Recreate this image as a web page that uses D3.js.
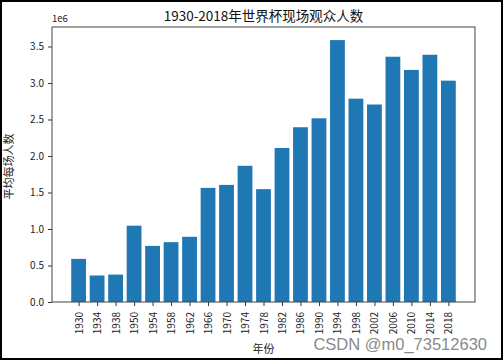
<!DOCTYPE html>
<html><head><meta charset="utf-8">
<script src="https://cdn.jsdelivr.net/npm/d3@7"></script>
<style>
html,body{margin:0;padding:0;background:#fff;}
svg{display:block;}
</style>
</head><body>
<script>
const years = ["1930","1934","1938","1950","1954","1958","1962","1966","1970","1974","1978","1982","1986","1990","1994","1998","2002","2006","2010","2014","2018"];
const attendance = [590549,363000,375700,1045246,768607,819810,893172,1563135,1603975,1865753,1545791,2109723,2394031,2516215,3587538,2785100,2705197,3359439,3178856,3386810,3031768];
const yTicks = [0,500000,1000000,1500000,2000000,2500000,3000000,3500000];
const yTickLabels = ["0.0","0.5","1.0","1.5","2.0","2.5","3.0","3.5"];
const title = "1930-2018年世界杯现场观众人数";
const xLabel = "年份";
const yLabel = "平均每场人数";
const watermark = "CSDN @m0_73512630";

const W = 503, H = 360;
const L = 52, R = 475, T = 27, B = 302;
const font = "'Noto Sans CJK SC', 'DejaVu Sans', sans-serif";

const svg = d3.select("body").append("svg").attr("width", W).attr("height", H);
svg.append("rect").attr("x",1).attr("y",1).attr("width",W-2).attr("height",H-2)
  .attr("fill","#fff").attr("stroke","#000").attr("stroke-width",2);

const n = years.length;
const x = d3.scaleLinear().domain([-1.44, n - 1 + 1.44]).range([L, R]);
const bw = 0.8;
const ymax = d3.max(attendance) * 1.05;
const y = d3.scaleLinear().domain([0, ymax]).range([B, T]);

svg.append("g").selectAll("rect").data(attendance).join("rect")
  .attr("x", (d,i) => x(i - bw/2))
  .attr("width", x(bw) - x(0))
  .attr("y", d => y(d))
  .attr("height", d => y(0) - y(d))
  .attr("fill", "#1f77b4");

// axes
const yAxis = d3.axisLeft(y).tickValues(yTicks).tickFormat((d,i) => yTickLabels[i]).tickSize(4).tickPadding(4);
const gy = svg.append("g").attr("transform", `translate(${L},0)`).call(yAxis);
const xAxis = d3.axisBottom(x).tickValues(d3.range(n)).tickFormat(i => years[i]).tickSize(4).tickPadding(3);
const gx = svg.append("g").attr("transform", `translate(0,${B})`).call(xAxis);
[gx, gy].forEach(g => {
  g.select(".domain").remove();
  g.selectAll("line").attr("stroke", "#333");
  g.selectAll("text").attr("fill", "#222").style("font-family", font).style("font-size", "10px");
});
gx.selectAll("text")
  .attr("transform", "rotate(-90)")
  .attr("text-anchor", "end")
  .attr("dy", "0.35em")
  .attr("x", -10)
  .attr("y", 0);

// frame
svg.append("rect").attr("x", L).attr("y", T).attr("width", R - L).attr("height", B - T)
  .attr("fill", "none").attr("stroke", "#444").attr("stroke-width", 1);

// texts
svg.append("text").attr("x", (L + R) / 2).attr("y", 21).attr("text-anchor", "middle")
  .style("font-family", font).style("font-size", "13.5px").attr("fill", "#111").text(title);
svg.append("text").attr("x", L).attr("y", 22)
  .style("font-family", font).style("font-size", "9.5px").attr("fill", "#222").text("1e6");
svg.append("text").attr("transform", `translate(13,${(T + B) / 2 + 2}) rotate(-90)`).attr("text-anchor", "middle")
  .style("font-family", font).style("font-size", "11px").attr("fill", "#222").text(yLabel);
svg.append("text").attr("x", (L + R) / 2).attr("y", 353).attr("text-anchor", "middle")
  .style("font-family", font).style("font-size", "11px").attr("fill", "#222").text(xLabel);
svg.append("text").attr("x", 487).attr("y", 350).attr("text-anchor", "end")
  .style("font-family", "'Liberation Sans', Arial, sans-serif").style("font-size", "16.5px").attr("fill", "#8a8a8a").text(watermark);
</script>
</body></html>
